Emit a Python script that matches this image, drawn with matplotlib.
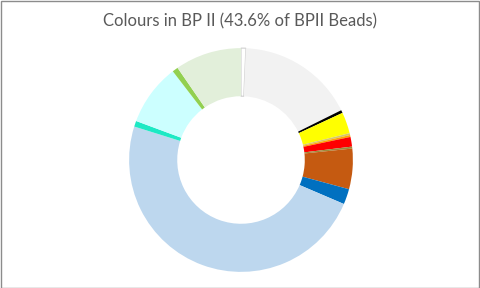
import matplotlib
matplotlib.use("Agg")
import matplotlib.pyplot as plt

# slices clockwise from 12 o'clock, in degrees
shares = [2.5, 61, 1.5, 11, 1, 1, 5, 1, 21, 8, 174, 3, 32, 3, 34.5]
colours = ['#ffffff', '#f2f2f2', '#000000', '#ffff00', '#d6c86a', '#ffa500',
           '#ff0000', '#9c8c3c', '#c55a11', '#0070c0', '#bdd7ee', '#1de9c4',
           '#ccffff', '#92d050', '#e2efda']
title = 'Colours in BP II (43.6% of BPII Beads)'

W, H = 480, 288
fig = plt.figure(figsize=(W / 100, H / 100), dpi=100)
cx, cy, r = 241, 160, 113
ax = fig.add_axes([(cx - r) / W, (H - cy - r) / H, 2 * r / W, 2 * r / H])

wedges, _ = ax.pie(shares, colors=colours, startangle=90, counterclock=False,
                   radius=1, wedgeprops=dict(width=0.43, linewidth=0))
wedges[0].set_edgecolor('#d0d0d0')
wedges[0].set_linewidth(0.8)
ax.set_xlim(-1.01, 1.01)
ax.set_ylim(-1.01, 1.01)
ax.set_aspect('equal')
ax.axis('off')

fig.text(0.5, 1 - 21 / H, title, ha='center', va='center', fontsize=12,
         color='#595959', family=['Lato', 'DejaVu Sans'])

# thin grey frame round the chart area
fig.patches.append(plt.Rectangle((0.5 / W, 0.5 / H), 1 - 1.5 / W, 1 - 1.5 / H,
                                 transform=fig.transFigure, fill=False,
                                 edgecolor='#8c8c8c', linewidth=1))

fig.savefig('out.png', dpi=100)
